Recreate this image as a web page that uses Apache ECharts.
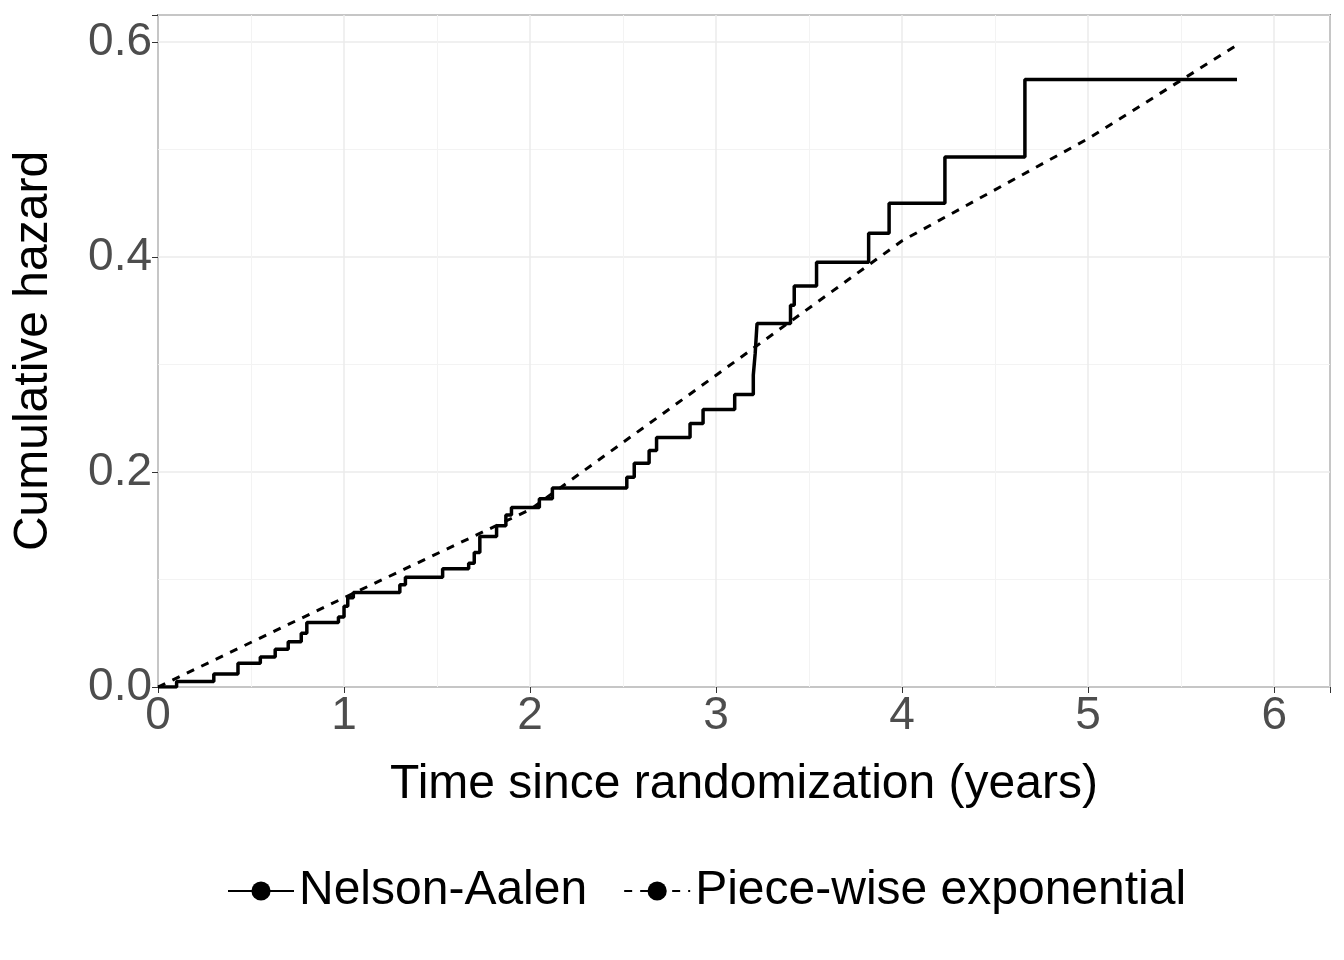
<!DOCTYPE html>
<html><head><meta charset="utf-8">
<script src="https://cdn.jsdelivr.net/npm/echarts@6/dist/echarts.min.js"></script>
<style>html,body{margin:0;background:#fff}#c{width:1344px;height:960px}</style>
</head><body><div id="c"></div>
<script>
const naTimes = [0,0.1,0.3,0.43,0.55,0.63,0.7,0.77,0.8,0.97,1.0,1.02,1.05,1.3,1.33,1.53,1.67,1.7,1.73,1.82,1.87,1.9,2.05,2.12,2.52,2.56,2.64,2.68,2.86,2.93,3.1,3.2,3.21,3.22,3.4,3.42,3.54,3.82,3.93,4.23,4.66,5.8];
const naHaz = [0,0.005,0.012,0.022,0.028,0.035,0.042,0.05,0.06,0.065,0.075,0.083,0.088,0.095,0.102,0.11,0.115,0.125,0.14,0.15,0.16,0.167,0.175,0.185,0.195,0.208,0.22,0.232,0.245,0.258,0.272,0.29,0.31,0.338,0.355,0.373,0.395,0.422,0.45,0.493,0.565,0.565];
const peTimes = [0,1,2,3,4,5,5.8];
const peHaz = [0,0.083,0.165,0.29,0.415,0.51,0.597];
const xTicks = [0,1,2,3,4,5,6];
const yTicks = [0,0.2,0.4,0.6];

const font = 'Liberation Sans, Arial, sans-serif';
const chart = echarts.init(document.getElementById('c'));
chart.setOption({
  animation:false,
  grid:{left:158,right:14,top:15,bottom:273,containLabel:false,outerBoundsMode:'none',show:true,borderColor:'#222',borderWidth:1.5,backgroundColor:'transparent'},
  xAxis:{type:'value',min:0,max:6.3,interval:1,
    name:'Time since randomization (years)',nameLocation:'middle',nameGap:74,
    nameTextStyle:{fontFamily:font,fontSize:48,color:'#000'},
    axisLine:{show:false},axisTick:{show:true,length:6,lineStyle:{color:'#333'}},
    axisLabel:{fontFamily:font,fontSize:46,color:'#4d4d4d',margin:6,
      formatter:v=>xTicks.includes(v)?String(v):''},
    splitLine:{lineStyle:{color:'#ebebeb',width:1.5}},
    minorTick:{show:false,splitNumber:2},minorSplitLine:{show:true,lineStyle:{color:'#f3f3f3',width:1}}},
  yAxis:{type:'value',min:0,max:0.625,interval:0.2,
    name:'Cumulative hazard',nameLocation:'middle',nameGap:100,
    nameTextStyle:{fontFamily:font,fontSize:48,color:'#000'},
    axisLine:{show:false},axisTick:{show:true,length:6,lineStyle:{color:'#333'}},
    axisLabel:{fontFamily:font,fontSize:46,color:'#4d4d4d',margin:6,
      formatter:v=>{const t=yTicks.find(k=>Math.abs(k-v)<1e-9);return t===undefined?'':t.toFixed(1);}},
    splitLine:{lineStyle:{color:'#ebebeb',width:1.5}},
    minorTick:{show:false,splitNumber:2},minorSplitLine:{show:true,lineStyle:{color:'#f3f3f3',width:1}}},
  legend:{show:true,bottom:40,left:222,itemWidth:66,itemHeight:24,itemGap:36,
    textStyle:{fontFamily:font,fontSize:48,color:'#000'},
    data:['Nelson-Aalen','Piece-wise exponential']},
  series:[
    {name:'Nelson-Aalen',type:'line',step:'end',symbol:'none',
     data:naTimes.map((t,i)=>[t,naHaz[i]]),lineStyle:{color:'#000',width:3.5},itemStyle:{color:'#000'}},
    {name:'Piece-wise exponential',type:'line',symbol:'none',
     data:peTimes.map((t,i)=>[t,peHaz[i]]),lineStyle:{color:'#000',width:3,type:[8,8]},itemStyle:{color:'#000'}}
  ]
});
</script></body></html>
